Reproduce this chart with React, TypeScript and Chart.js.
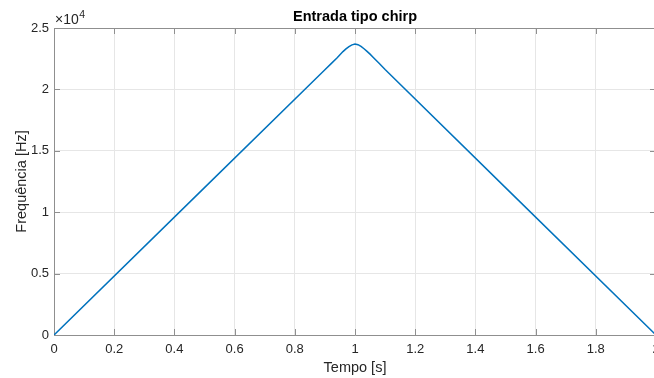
import React, { useEffect, useRef } from "react";
import { Chart, registerables } from "chart.js";

Chart.register(...registerables);

const timeS = [0, 0.5, 0.9, 0.92, 0.94, 0.95, 0.96, 0.97, 0.98, 0.99, 1.0, 1.01, 1.02, 1.03, 1.04, 1.05, 1.06, 1.08, 1.1, 1.5, 2.0];
const freqHz = [0, 12000, 21600, 22080, 22560, 22830, 23080, 23300, 23490, 23630, 23700, 23640, 23500, 23310, 23100, 22870, 22620, 22130, 21620, 12000, 0];
const xTickValues = [0, 0.2, 0.4, 0.6, 0.8, 1, 1.2, 1.4, 1.6, 1.8, 2];
const yTickValues = [0, 5000, 10000, 15000, 20000, 25000];
const titleText = "Entrada tipo chirp";
const xTitle = "Tempo [s]";
const yTitle = "Frequência [Hz]";

const FONT = "'Liberation Sans', Arial, Helvetica, sans-serif";
const CANVAS_W = 680;
const CANVAS_H = 378;

export default function App() {
  const ref = useRef<HTMLCanvasElement | null>(null);

  useEffect(() => {
    const canvas = ref.current;
    if (!canvas) return;
    document.body.style.overflow = "hidden";

    const decor = {
      id: "matlabDecor",
      beforeDatasetsDraw(chart: any) {
        const { ctx, chartArea } = chart;
        const { left, right, top, bottom } = chartArea;
        const xs = chart.scales.x;
        const ys = chart.scales.y;
        ctx.save();
        ctx.strokeStyle = "#8f8f8f";
        ctx.lineWidth = 1;
        ctx.beginPath();
        ctx.rect(Math.round(left) + 0.5, Math.round(top) + 0.5, Math.round(right - left), Math.round(bottom - top));
        ctx.stroke();
        ctx.beginPath();
        const tl = 6;
        for (const v of xTickValues) {
          const px = Math.round(xs.getPixelForValue(v)) + 0.5;
          ctx.moveTo(px, bottom);
          ctx.lineTo(px, bottom - tl);
          ctx.moveTo(px, top);
          ctx.lineTo(px, top + tl);
        }
        for (const v of yTickValues) {
          const py = Math.round(ys.getPixelForValue(v)) + 0.5;
          ctx.moveTo(left, py);
          ctx.lineTo(left + tl, py);
          ctx.moveTo(right, py);
          ctx.lineTo(right - tl, py);
        }
        ctx.stroke();
        ctx.restore();
      },
      afterDraw(chart: any) {
        const { ctx, chartArea } = chart;
        const { left, right, top, bottom } = chartArea;
        ctx.save();
        ctx.fillStyle = "#000000";
        ctx.font = `bold 14.5px ${FONT}`;
        ctx.textAlign = "center";
        ctx.textBaseline = "alphabetic";
        ctx.fillText(titleText, (left + right) / 2, 21);

        ctx.fillStyle = "#262626";
        ctx.font = `14.5px ${FONT}`;
        ctx.fillText(xTitle, (left + right) / 2, 372);

        ctx.save();
        ctx.translate(26, (top + bottom) / 2);
        ctx.rotate(-Math.PI / 2);
        ctx.fillText(yTitle, 0, 0);
        ctx.restore();

        ctx.textAlign = "left";
        ctx.font = `14px ${FONT}`;
        ctx.fillText("\u00d710", left + 1, 24);
        const w = ctx.measureText("\u00d710").width;
        ctx.font = `10.5px ${FONT}`;
        ctx.fillText("4", left + 1 + w + 0.5, 17.5);
        ctx.restore();
      },
    };

    const chart = new Chart(canvas, {
      type: "line",
      data: {
        datasets: [
          {
            data: timeS.map((t, i) => ({ x: t, y: freqHz[i] })),
            borderColor: "#0072BD",
            borderWidth: 1.5,
            pointRadius: 0,
            fill: false,
            tension: 0,
          },
        ],
      },
      options: {
        responsive: false,
        animation: false,
        devicePixelRatio: 1,
        layout: { padding: { top: 28, right: CANVAS_W - 656, left: 0, bottom: 0 } },
        plugins: { legend: { display: false }, title: { display: false }, tooltip: { enabled: false } },
        scales: {
          x: {
            type: "linear",
            min: 0,
            max: 2,
            afterFit: (s: any) => {
              s.height = 43;
            },
            afterBuildTicks: (s: any) => {
              s.ticks = xTickValues.map((v) => ({ value: v }));
            },
            ticks: {
              color: "#262626",
              font: { family: FONT, size: 13 },
              padding: 7,
              maxRotation: 0,
              autoSkip: false,
              callback: (v: any) => String(Math.round(Number(v) * 10) / 10),
            },
            grid: { color: "#e6e6e6", drawTicks: false },
            border: { display: false },
          },
          y: {
            type: "linear",
            min: 0,
            max: 25000,
            afterFit: (s: any) => {
              s.width = 54;
            },
            afterBuildTicks: (s: any) => {
              s.ticks = yTickValues.map((v) => ({ value: v }));
            },
            ticks: {
              color: "#262626",
              font: { family: FONT, size: 13 },
              padding: 5,
              autoSkip: false,
              callback: (v: any) => String(Math.round((Number(v) / 10000) * 10) / 10),
            },
            grid: { color: "#e6e6e6", drawTicks: false },
            border: { display: false },
          },
        },
      },
      plugins: [decor],
    });

    return () => {
      chart.destroy();
    };
  }, []);

  return (
    <div
      style={{
        position: "fixed",
        left: 0,
        top: 0,
        width: 654,
        height: 378,
        overflow: "hidden",
        background: "#ffffff",
      }}
    >
      <canvas ref={ref} width={CANVAS_W} height={CANVAS_H} style={{ width: CANVAS_W, height: CANVAS_H, display: "block" }} />
    </div>
  );
}
